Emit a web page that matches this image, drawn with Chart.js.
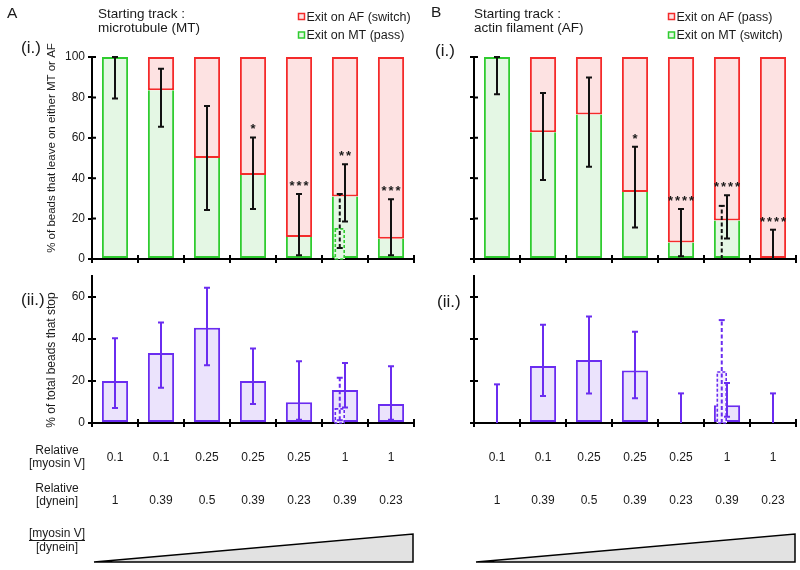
<!DOCTYPE html>
<html><head><meta charset="utf-8">
<script src="https://cdn.jsdelivr.net/npm/chart.js@4.4.1/dist/chart.umd.min.js"></script>
<style>
html,body{margin:0;padding:0;background:#fff;}
#wrap{position:relative;width:800px;height:570px;overflow:hidden;background:#fff;}
canvas{position:absolute;}
</style></head><body>
<div id="wrap">
<canvas id="aTop" width="420" height="270" style="left:0;top:0;width:420px;height:270px"></canvas>
<canvas id="bTop" width="400" height="270" style="left:400px;top:0;width:400px;height:270px"></canvas>
<canvas id="aBot" width="420" height="310" style="left:0;top:260px;width:420px;height:310px"></canvas>
<canvas id="bBot" width="400" height="310" style="left:400px;top:260px;width:400px;height:310px"></canvas>
</div>
<script>
const FONT = '"Liberation Sans", Arial, Helvetica, sans-serif';

// ---- categories / tick labels ----
const myosinV = ['0.1', '0.1', '0.25', '0.25', '0.25', '1', '1'];
const dynein  = ['1', '0.39', '0.5', '0.39', '0.23', '0.39', '0.23'];
const categories = ['0.1 : 1', '0.1 : 0.39', '0.25 : 0.5', '0.25 : 0.39', '0.25 : 0.23', '1 : 0.39', '1 : 0.23'];

// ---- Panel A (i.) starting track microtubule ----
const aExitMT      = [100, 83.5, 50, 41.6, 10.9, 30.9, 10];
const aExitAF      = [0, 16.5, 50, 58.4, 89.1, 69.1, 90];
const aErrLow      = [79.5, 65.5, 24.3, 24.8, 1.8, 18.6, 1.8];
const aErrHigh     = [100, 94.2, 75.7, 60.2, 32.2, 46.9, 29.6];
const aStars       = ['', '', '', '*', '***', '**', '***'];
const aSubMT       = [null, null, null, null, null, 15.3, null];
const aSubErrLow   = [null, null, null, null, null, 5.4, null];
const aSubErrHigh  = [null, null, null, null, null, 32.2, null];

// ---- Panel B (i.) starting track actin filament ----
const bExitMT      = [100, 62.7, 71.5, 33.2, 8.2, 19, 0];
const bExitAF      = [0, 37.3, 28.5, 66.8, 91.8, 81, 100];
const bErrLow      = [81.6, 39.1, 45.7, 15.6, 1.3, 10.2, 0];
const bErrHigh     = [100, 82.2, 89.8, 55.6, 24.8, 31.6, 14.5];
const bStars       = ['', '', '', '*', '****', '****', '****'];
const bSubMT       = [null, null, null, null, null, 0, null];
const bSubErrLow   = [null, null, null, null, null, 0, null];
const bSubErrHigh  = [null, null, null, null, null, 26.3, null];

// ---- Panel A (ii.) beads that stop ----
const aStop        = [20, 33.3, 45.4, 20, 9.9, 15.7, 9];
const aStopLow     = [7.1, 16.8, 27.5, 9.1, 1.6, 7.4, 1.6];
const aStopHigh    = [40.4, 47.9, 64.4, 35.5, 29.4, 28.6, 27];
const aStopSub     = [null, null, null, null, null, 7.1, null];
const aStopSubLow  = [null, null, null, null, null, 1.3, null];
const aStopSubHigh = [null, null, null, null, null, 21.5, null];

// ---- Panel B (ii.) beads that stop ----
const bStop        = [0, 27.2, 30, 25, 0, 8.5, 0];
const bStopLow     = [0, 12.9, 14.1, 11.8, 0, 3, 0];
const bStopHigh    = [18.4, 46.8, 50.7, 43.5, 14.1, 19, 14.1];
const bStopSub     = [null, null, null, null, null, 24.7, null];
const bStopSubLow  = [null, null, null, null, null, 0, null];
const bStopSubHigh = [null, null, null, null, null, 49, null];

const RED = '#f42a2a', RED_FILL = '#fde2e2';
const GREEN = '#2fcc2f', GREEN_FILL = '#e4f7e4';
const PURPLE = '#6a2cf0', PURPLE_FILL = '#ebe3fc';
const INK = '#1a1a1a';

Chart.defaults.font.family = FONT;
Chart.defaults.color = INK;
Chart.defaults.animation = false;

function text(ctx, s, x, y, size, align, bold) {
  ctx.font = (bold ? 'bold ' : '') + size + 'px ' + FONT;
  ctx.textAlign = align || 'left';
  ctx.textBaseline = 'alphabetic';
  ctx.fillStyle = INK;
  ctx.fillText(s, x, y);
}
function vtext(ctx, s, x, y, size) {
  ctx.save();
  ctx.translate(x, y);
  ctx.rotate(-Math.PI / 2);
  ctx.font = size + 'px ' + FONT;
  ctx.textAlign = 'center';
  ctx.textBaseline = 'middle';
  ctx.fillStyle = INK;
  ctx.fillText(s, 0, 0);
  ctx.restore();
}
function errBar(ctx, x, yLo, yHi, color, dashed, lowCap) {
  ctx.strokeStyle = color; ctx.lineWidth = 2;
  ctx.setLineDash(dashed ? [4, 2.5] : []);
  ctx.beginPath(); ctx.moveTo(x, yLo); ctx.lineTo(x, yHi); ctx.stroke();
  ctx.setLineDash([]);
  ctx.beginPath();
  ctx.moveTo(x - 3, yHi); ctx.lineTo(x + 3, yHi);
  if (lowCap) { ctx.moveTo(x - 3, yLo); ctx.lineTo(x + 3, yLo); }
  ctx.stroke();
}
function legendBox(ctx, x, y, stroke, fill) {
  ctx.fillStyle = fill; ctx.fillRect(x, y, 6, 6);
  ctx.strokeStyle = stroke; ctx.lineWidth = 1.5; ctx.strokeRect(x, y, 6, 6);
}
function triangle(ctx, ca) {
  const l = ca.left + 2, r = ca.right - 1, b = 302, t = 274;
  ctx.beginPath(); ctx.moveTo(l, b); ctx.lineTo(r, t); ctx.lineTo(r, b); ctx.closePath();
  ctx.fillStyle = '#e2e2e2'; ctx.fill();
  ctx.strokeStyle = '#000'; ctx.lineWidth = 1.5; ctx.stroke();
}
function tableRows(ctx, chart) {
  const xs = chart.scales.x;
  myosinV.forEach((m, i) => text(ctx, m, xs.getPixelForValue(i), 201.3, 12, 'center'));
  dynein.forEach((d, i) => text(ctx, d, xs.getPixelForValue(i), 244.3, 12, 'center'));
}

function makeOverlay(cfg) {
  return {
    id: 'overlay',
    afterDatasetsDraw(chart) {
      const ctx = chart.ctx, xs = chart.scales.x, ys = chart.scales.y, ca = chart.chartArea;
      ctx.save();
      // inner halves of axis ticks
      ctx.strokeStyle = '#000'; ctx.lineWidth = 2;
      ctx.beginPath();
      ys.ticks.forEach(t => { const y = ys.getPixelForValue(t.value); ctx.moveTo(ca.left, y); ctx.lineTo(ca.left + 4, y); });
      const n = categories.length, w = (ca.right - ca.left) / n;
      for (let i = 0; i <= n; i++) { const x = ca.left + i * w; ctx.moveTo(x, ca.bottom); ctx.lineTo(x, ca.bottom - 4); }
      ctx.stroke();
      const meta = chart.getDatasetMeta(0);
      // dashed subset bars
      cfg.subBar.forEach((v, i) => {
        if (v === null) return;
        const el = meta.data[i];
        const xr = el.x, xl = el.x - el.width * 0.4;
        if (v > 0) {
          const yT = ys.getPixelForValue(v), yB = ys.getPixelForValue(0);
          ctx.fillStyle = cfg.subFill; ctx.fillRect(xl, yT, xr - xl, yB - yT);
          ctx.strokeStyle = cfg.subColor; ctx.lineWidth = 1.6; ctx.setLineDash([3, 2]);
          ctx.strokeRect(xl + 0.8, yT + 0.8, xr - xl - 1.6, yB - yT - 0.8);
          ctx.setLineDash([]);
        }
        const lo = cfg.subLow[i], hi = cfg.subHigh[i];
        errBar(ctx, (xl + xr) / 2, ys.getPixelForValue(lo), ys.getPixelForValue(hi), cfg.errColor, true, lo > 0.5);
      });
      // solid error bars
      cfg.errLow.forEach((lo, i) => {
        const hi = cfg.errHigh[i];
        errBar(ctx, xs.getPixelForValue(i), ys.getPixelForValue(lo), ys.getPixelForValue(hi), cfg.errColor, false, lo > 0.5);
      });
      // significance stars
      if (cfg.stars) {
        ctx.letterSpacing = '2px';
        cfg.stars.forEach((s, i) => {
          if (!s) return;
          text(ctx, s, xs.getPixelForValue(i) + 1, ys.getPixelForValue(cfg.errHigh[i]) - 4, 13, 'center', true);
        });
        ctx.letterSpacing = '0px';
      }
      ctx.restore();
    },
    afterDraw(chart) {
      const ctx = chart.ctx;
      ctx.save();
      cfg.decor(ctx, chart);
      ctx.restore();
    }
  };
}

function axes(opts) {
  return {
    x: {
      stacked: true, offset: true,
      grid: { drawOnChartArea: false, tickLength: 4, color: '#000', lineWidth: 2, offset: true },
      border: { color: '#000', width: 2 },
      ticks: { autoSkip: false, maxRotation: 0, minRotation: 0, callback: () => '' },
      afterFit: s => { s.height = 11; }
    },
    y: {
      stacked: true, min: 0, max: opts.yMax,
      grid: { drawOnChartArea: false, tickLength: 4, color: '#000', lineWidth: 2 },
      border: { color: '#000', width: 2 },
      ticks: {
        stepSize: 20, includeBounds: false, padding: 3,
        font: { size: 12 }, color: INK,
        callback: opts.yLabels ? (v => v) : (() => '')
      },
      afterFit: s => { s.width = opts.yWidth; }
    }
  };
}

function stackedChart(id, mt, af, yWidth, yLabels, padRight, overlayCfg) {
  return new Chart(document.getElementById(id), {
    type: 'bar',
    data: {
      labels: categories,
      datasets: [
        { label: 'Exit on MT', data: mt, backgroundColor: GREEN_FILL, borderColor: GREEN,
          borderWidth: c => (c.raw ? 2 : 0), borderSkipped: c => (c.raw >= 100 ? false : 'end'),
          barPercentage: 0.57, categoryPercentage: 1 },
        { label: 'Exit on AF', data: af, backgroundColor: RED_FILL, borderColor: RED,
          borderWidth: c => (c.raw ? 2 : 0), borderSkipped: false,
          barPercentage: 0.57, categoryPercentage: 1 }
      ]
    },
    options: {
      responsive: false, maintainAspectRatio: false,
      layout: { padding: { left: 0, top: 57, right: padRight, bottom: 0 } },
      plugins: { legend: { display: false }, tooltip: { enabled: false } },
      scales: axes({ yMax: 100, yWidth, yLabels })
    },
    plugins: [makeOverlay(overlayCfg)]
  });
}

function stopChart(id, vals, yWidth, yLabels, padRight, overlayCfg) {
  return new Chart(document.getElementById(id), {
    type: 'bar',
    data: {
      labels: categories,
      datasets: [
        { label: 'Stop', data: vals, backgroundColor: PURPLE_FILL, borderColor: PURPLE,
          borderWidth: c => (c.raw ? 2 : 0), borderSkipped: false,
          barPercentage: 0.57, categoryPercentage: 1 }
      ]
    },
    options: {
      responsive: false, maintainAspectRatio: false,
      layout: { padding: { left: 0, top: 16, right: padRight, bottom: 136 } },
      plugins: { legend: { display: false }, tooltip: { enabled: false } },
      scales: axes({ yMax: 70, yWidth, yLabels })
    },
    plugins: [makeOverlay(overlayCfg)]
  });
}

stackedChart('aTop', aExitMT, aExitAF, 92, true, 6, {
  errLow: aErrLow, errHigh: aErrHigh, errColor: '#111', stars: aStars,
  subBar: aSubMT, subLow: aSubErrLow, subHigh: aSubErrHigh, subColor: GREEN, subFill: GREEN_FILL,
  decor(ctx) {
    text(ctx, 'A', 7, 17.5, 15.5);
    text(ctx, 'Starting track :', 98, 17.5, 13.5);
    text(ctx, 'microtubule (MT)', 98, 32, 13.5);
    legendBox(ctx, 298.5, 13.5, RED, RED_FILL);
    text(ctx, 'Exit on AF (switch)', 306.5, 20.5, 12.5);
    legendBox(ctx, 298.5, 32, GREEN, GREEN_FILL);
    text(ctx, 'Exit on MT (pass)', 306.5, 38.5, 12.5);
    text(ctx, '(i.)', 21, 52.5, 17);
    vtext(ctx, '% of beads that leave on either MT or AF', 52, 148, 11.5);
  }
});

stackedChart('bTop', bExitMT, bExitAF, 74, false, 4, {
  errLow: bErrLow, errHigh: bErrHigh, errColor: '#111', stars: bStars,
  subBar: bSubMT, subLow: bSubErrLow, subHigh: bSubErrHigh, subColor: GREEN, subFill: GREEN_FILL,
  decor(ctx) {
    text(ctx, 'B', 31, 16.5, 15.5);
    text(ctx, 'Starting track :', 74, 17.5, 13.5);
    text(ctx, 'actin filament (AF)', 74, 32, 13.5);
    legendBox(ctx, 268.5, 13.5, RED, RED_FILL);
    text(ctx, 'Exit on AF (pass)', 276.5, 20.5, 12.5);
    legendBox(ctx, 268.5, 32, GREEN, GREEN_FILL);
    text(ctx, 'Exit on MT (switch)', 276.5, 38.5, 12.5);
    text(ctx, '(i.)', 35, 56, 17);
  }
});

stopChart('aBot', aStop, 92, true, 6, {
  errLow: aStopLow, errHigh: aStopHigh, errColor: PURPLE, stars: null,
  subBar: aStopSub, subLow: aStopSubLow, subHigh: aStopSubHigh, subColor: PURPLE, subFill: '#f5f1fe',
  decor(ctx, chart) {
    text(ctx, '(ii.)', 21, 44.5, 17);
    vtext(ctx, '% of total beads that stop', 52, 100, 12);
    text(ctx, 'Relative', 57, 194.3, 12, 'center');
    text(ctx, '[myosin V]', 57, 207.3, 12, 'center');
    text(ctx, 'Relative', 57, 232.3, 12, 'center');
    text(ctx, '[dynein]', 57, 245.3, 12, 'center');
    tableRows(ctx, chart);
    text(ctx, '[myosin V]', 57, 277.3, 12, 'center');
    ctx.font = '12px ' + FONT;
    const w = ctx.measureText('[myosin V]').width;
    ctx.strokeStyle = INK; ctx.lineWidth = 1;
    ctx.beginPath(); ctx.moveTo(57 - w / 2, 280.5); ctx.lineTo(57 + w / 2, 280.5); ctx.stroke();
    text(ctx, '[dynein]', 57, 291.3, 12, 'center');
    triangle(ctx, chart.chartArea);
  }
});

stopChart('bBot', bStop, 74, false, 4, {
  errLow: bStopLow, errHigh: bStopHigh, errColor: PURPLE, stars: null,
  subBar: bStopSub, subLow: bStopSubLow, subHigh: bStopSubHigh, subColor: PURPLE, subFill: '#f5f1fe',
  decor(ctx, chart) {
    text(ctx, '(ii.)', 37, 47, 17);
    tableRows(ctx, chart);
    triangle(ctx, chart.chartArea);
  }
});
</script>
</body></html>
